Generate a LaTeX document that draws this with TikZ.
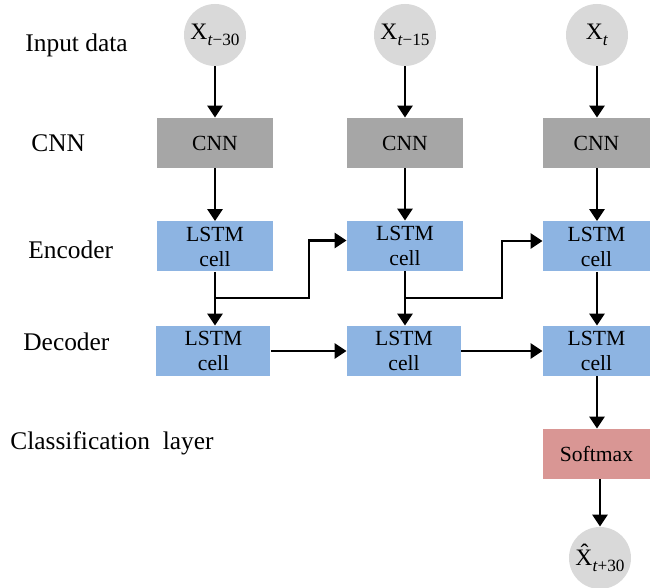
\documentclass[tikz,border=0pt]{standalone}
\usepackage{fontspec}
\setmainfont{Liberation Serif}
\usepackage{tikz}
\usetikzlibrary{positioning,arrows.meta}
\definecolor{incol}{HTML}{D9D9D9}
\definecolor{cnncol}{HTML}{A6A6A6}
\definecolor{lstmcol}{HTML}{8DB4E2}
\definecolor{softcol}{HTML}{D99694}
\newcommand{\sbs}[1]{\raisebox{-0.6ex}{\fontsize{8.6pt}{9pt}\selectfont #1}}
\tikzset{
	datanode/.style = {shape=circle, fill=incol, minimum size=31pt,
		inner sep=0pt, font=\fontsize{11.8pt}{13pt}\selectfont},
	boxnode/.style  = {shape=rectangle, align=center, inner sep=0pt,
		minimum width=58pt, minimum height=25pt,
		font=\fontsize{10.8pt}{12.5pt}\selectfont},
	cnnbox/.style   = {boxnode, fill=cnncol},
	cellbox/.style  = {boxnode, fill=lstmcol},
	softbox/.style  = {boxnode, fill=softcol},
	rowlabel/.style = {anchor=west, inner sep=0pt, font=\fontsize{12.7pt}{14pt}\selectfont},
	flow/.style     = {draw, line width=1.4pt, -{Triangle[width=7.5pt,length=6pt]}}
}
\begin{document}
\begin{tikzpicture}[x=0.5pt, y=-0.5pt]
\useasboundingbox (0,0) rectangle (650,588);
% row labels
\node [rowlabel] (lin)  at (25,45)  {Input data};
\node [rowlabel] (lcnn) at (31,143) {CNN};
\node [rowlabel] (lenc) at (28,250) {Encoder};
\node [rowlabel] (ldec) at (23,342) {Decoder};
\node [rowlabel] (lcls) at (10,443) {Classification\ \ layer};
% inputs
\node [datanode] (xA) at (215,35) {X\sbs{\textit{t}−30}};
\node [datanode] (xB) at (405,35) {X\sbs{\textit{t}−15}};
\node [datanode] (xC) at (597,35) {X\sbs{\textit{t}}};
% cnn
\node [cnnbox] (cnnA) at (215,143) {CNN};
\node [cnnbox] (cnnB) at (405,143) {CNN};
\node [cnnbox, minimum width=53.5pt] (cnnC) at (596.5,143) {CNN};
% encoder
\node [cellbox] (encA) at (215,246.5) {LSTM\\cell};
\node [cellbox] (encB) at (405,246) {LSTM\\cell};
\node [cellbox, minimum width=53.5pt] (encC) at (596.5,246.5) {LSTM\\cell};
% decoder
\node [cellbox, minimum width=57pt] (decA) at (213.5,351) {LSTM\\cell};
\node [cellbox, minimum width=57pt] (decB) at (404,351) {LSTM\\cell};
\node [cellbox, minimum width=53.5pt] (decC) at (596.5,351) {LSTM\\cell};
% output
\node [softbox, minimum width=53.5pt] (soft) at (596.5,454) {Softmax};
\node [datanode] (xout) at (600,558) {\^{X}\sbs{\textit{t}+30}};
% connectors
\draw [flow] (xA) -- (cnnA);
\draw [flow] (xB) -- (cnnB);
\draw [flow] (xC.south) -- (xC.south |- cnnC.north);
\draw [flow] (cnnA) -- (encA);
\draw [flow] (cnnB) -- (encB);
\draw [flow] (cnnC.south -| xC) -- (encC.north -| xC);
\draw [flow] (encA) -- (decA.north -| encA);
\draw [flow] (encB.south) -- (decB.north -| encB);
\draw [flow] (encC.south -| xC) -- (decC.north -| xC);
\coordinate (jA) at (215,298);
\coordinate (kA) at (309,298);
\coordinate (jB) at (405,298);
\coordinate (kB) at (502,298);
\draw [flow] (jA) -- (kA) |- ([yshift=2.75pt]encB.west);
\draw [flow] (jB) -- (kB) |- ([yshift=2.75pt]encC.west);
\draw [flow] (decA) -- (decB);
\draw [flow] (decB) -- (decC);
\draw [flow] (decC.south -| xC) -- (soft.north -| xC);
\draw [flow] (soft.south -| xout) -- (xout);
\end{tikzpicture}
\end{document}
